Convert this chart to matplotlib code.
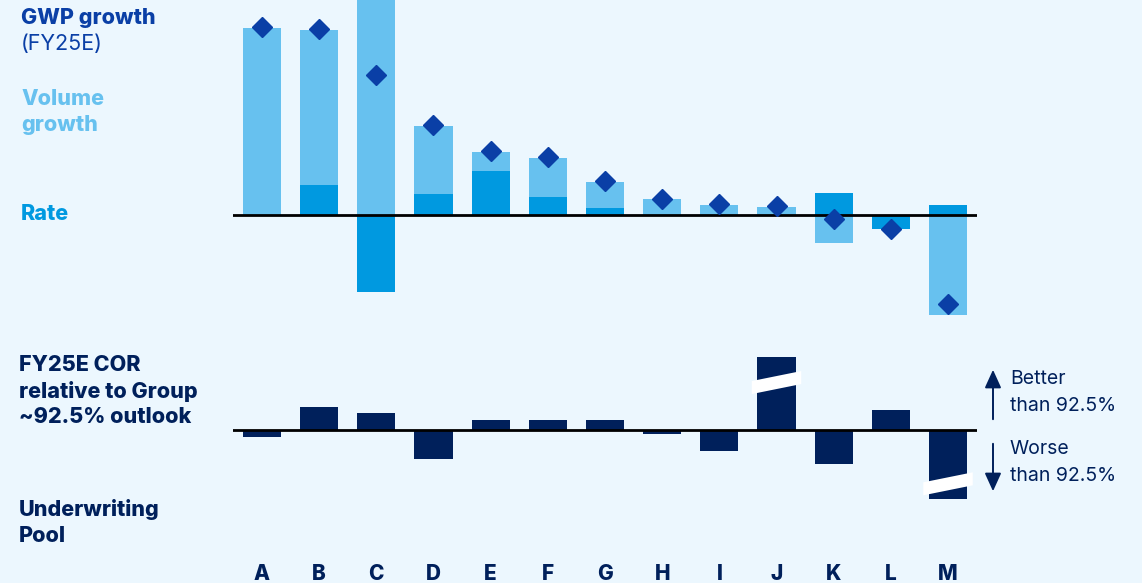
import numpy as np
import matplotlib
matplotlib.use("Agg")
import matplotlib.pyplot as plt
from matplotlib.patches import Polygon

# pools A..M
pools = ["A", "B", "C", "D", "E", "F", "G", "H", "I", "J", "K", "L", "M"]

# GWP growth split into rate and volume (%), diamonds = total
rate = [0.0, 3.0, -7.7, 2.1, 4.4, 1.8, 0.7, 0.0, 0.0, 0.0, 2.2, -1.4, 1.0]
volume = [18.7, 15.5, 21.6, 6.8, 1.9, 3.9, 2.6, 1.6, 1.0, 0.8, -2.8, 0.0, -10.0]
gwp = [18.8, 18.6, 14.0, 9.0, 6.4, 5.8, 3.4, 1.6, 1.1, 0.9, -0.4, -1.4, -8.9]

# COR vs ~92.5% outlook (pts), J and M are shown with an axis break
cor = [-0.7, 2.3, 1.7, -2.9, 1.0, 1.0, 1.0, -0.4, -2.1, 7.3, -3.4, 2.0, -6.9]
broken = ["J", "M"]

BG = "#ecf7fe"
LIGHT = "#67c1ef"
RATE = "#0099e0"
DIAM = "#0a3fa6"
NAVY = "#00205b"

W, H = 1142, 583
fig = plt.figure(figsize=(W / 100, H / 100), dpi=100, facecolor=BG)
plt.rcParams["font.family"] = ["Inter", "DejaVu Sans"]


def px_axes(x0, y0, x1, y1):
    # pixel box (top-left origin) -> axes
    return fig.add_axes([x0 / W, 1 - y1 / H, (x1 - x0) / W, (y1 - y0) / H])


x = np.arange(len(pools))
xlim = (-0.507, 12.507)
bw = 0.665

# ---- top panel: GWP growth
ax1 = px_axes(233, 0, 977, 330)
ax1.set_facecolor("none")
rate = np.array(rate)
volume = np.array(volume)
pos_r = np.clip(rate, 0, None)
neg_r = np.clip(rate, None, 0)
pos_v = np.clip(volume, 0, None)
neg_v = np.clip(volume, None, 0)
ax1.bar(x, pos_r, bw, color=RATE, zorder=2)
ax1.bar(x, neg_r, bw, color=RATE, zorder=2)
ax1.bar(x, pos_v, bw, bottom=pos_r, color=LIGHT, zorder=2)
ax1.bar(x, neg_v, bw, bottom=neg_r, color=LIGHT, zorder=2)
ax1.axhline(0, color="black", lw=2, zorder=3)
ax1.plot(x, gwp, "D", color=DIAM, ms=10, zorder=4)
ax1.set_xlim(xlim)
ax1.set_ylim(-11.5, 21.5)
ax1.axis("off")

# ---- bottom panel: COR
ax2 = px_axes(233, 340, 977, 560)
ax2.set_facecolor("none")
ax2.bar(x, cor, bw, color=NAVY, zorder=2)
ax2.axhline(0, color="black", lw=2, zorder=3)
ax2.set_xlim(xlim)
ax2.set_ylim(-13, 9)
for s in ax2.spines.values():
    s.set_visible(False)
ax2.set_yticks([])
ax2.set_xticks(x, pools)
ax2.tick_params(axis="x", length=0, pad=3)
for t in ax2.get_xticklabels():
    t.set_fontsize(15)
    t.set_fontweight("heavy")
    t.set_color(NAVY)

# white break bands on J and M
for name in broken:
    i = pools.index(name)
    v = cor[i]
    c = v * (0.65 if v > 0 else 0.78)
    l, r = i - bw / 2 - 0.1, i + bw / 2 + 0.1
    th = 0.65
    band = Polygon([(l, c - 0.5 - th), (r, c + 0.5 - th), (r, c + 0.5 + th), (l, c - 0.5 + th)],
                   closed=True, facecolor="white", edgecolor="none", zorder=5)
    ax2.add_patch(band)

# ---- text
def ftext(px, py, s, **kw):
    fig.text(px / W, 1 - py / H, s, va="center", ha="left", **kw)

fs = 15.5
ftext(21, 18, "GWP growth", fontsize=fs, fontweight="heavy", color=DIAM)
ftext(21, 44, "(FY25E)", fontsize=fs, color=DIAM)
ftext(21, 99, "Volume", fontsize=fs, fontweight="heavy", color=LIGHT)
ftext(21, 125, "growth", fontsize=fs, fontweight="heavy", color=LIGHT)
ftext(21, 214, "Rate", fontsize=fs, fontweight="heavy", color=RATE)
for k, s in enumerate(["FY25E COR", "relative to Group", "~92.5% outlook"]):
    ftext(19, 365 + 26 * k, s, fontsize=fs, fontweight="heavy", color=NAVY)
ftext(19, 510, "Underwriting", fontsize=fs, fontweight="heavy", color=NAVY)
ftext(19, 536, "Pool", fontsize=fs, fontweight="heavy", color=NAVY)

ftext(1010, 379, "Better", fontsize=14, color=NAVY)
ftext(1010, 406, "than 92.5%", fontsize=14, color=NAVY)
ftext(1010, 449, "Worse", fontsize=14, color=NAVY)
ftext(1010, 476, "than 92.5%", fontsize=14, color=NAVY)

ax_f = fig.add_axes([0, 0, 1, 1], facecolor="none")
ax_f.set_xlim(0, W)
ax_f.set_ylim(H, 0)
ax_f.axis("off")
ax_f.annotate("", xy=(993, 367), xytext=(993, 422),
              arrowprops=dict(arrowstyle="-|>,head_width=0.5,head_length=1.1", color=NAVY, lw=1.4))
ax_f.annotate("", xy=(993, 494), xytext=(993, 441),
              arrowprops=dict(arrowstyle="-|>,head_width=0.5,head_length=1.1", color=NAVY, lw=1.4))

fig.savefig("out.png", dpi=100, facecolor=BG)
